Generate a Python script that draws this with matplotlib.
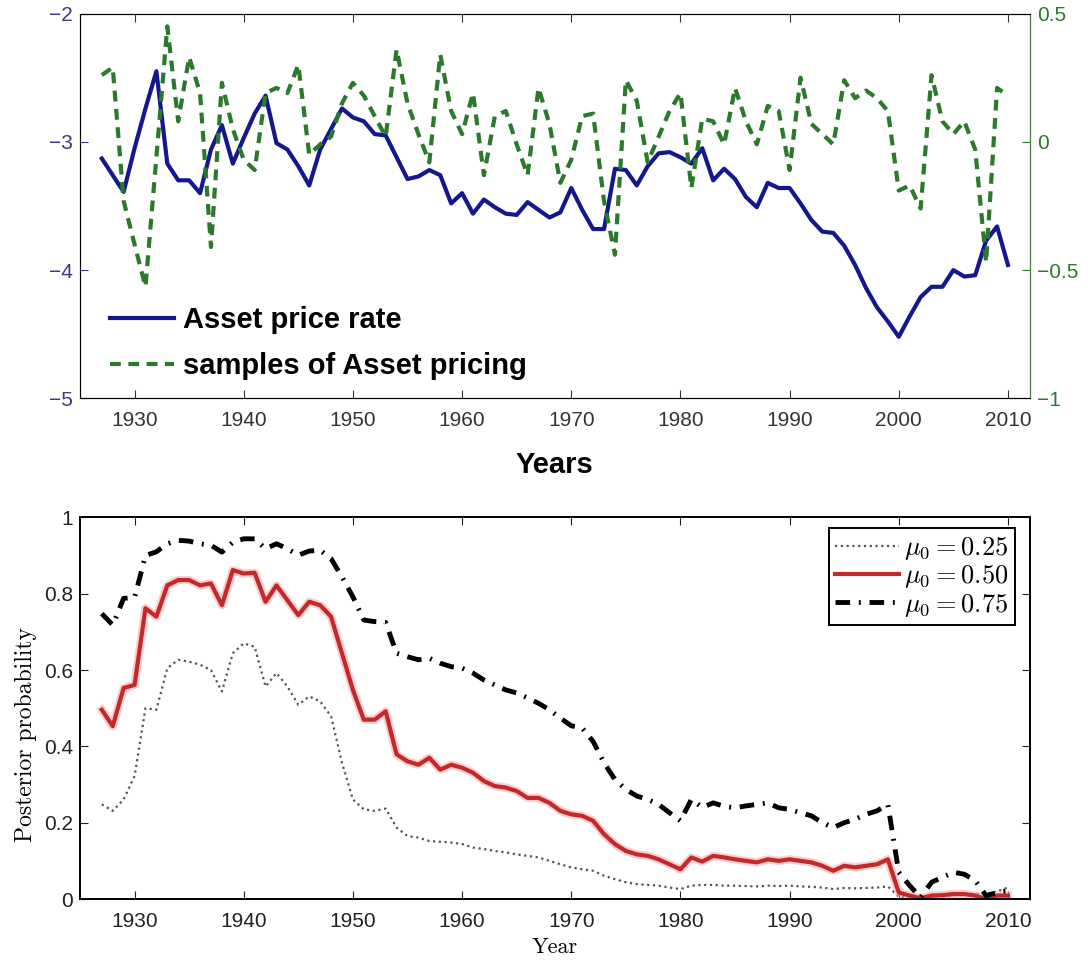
import matplotlib
matplotlib.use("Agg")
import matplotlib.pyplot as plt
import numpy as np

years = list(range(1927, 2011))

# top panel: asset price rate (left axis) and samples (right axis)
price_rate = [-3.13, -3.26, -3.39, -3.05, -2.74, -2.45, -3.17, -3.30, -3.30, -3.40,
              -3.06, -2.87, -3.17, -2.97, -2.78, -2.64, -3.01, -3.06, -3.19, -3.34,
              -3.06, -2.90, -2.74, -2.81, -2.84, -2.94, -2.95, -3.12, -3.29, -3.27,
              -3.22, -3.26, -3.48, -3.40, -3.56, -3.45, -3.51, -3.56, -3.57, -3.47,
              -3.53, -3.59, -3.55, -3.36, -3.53, -3.68, -3.68, -3.21, -3.22, -3.34,
              -3.19, -3.09, -3.08, -3.12, -3.17, -3.05, -3.30, -3.21, -3.29, -3.43,
              -3.51, -3.32, -3.36, -3.36, -3.48, -3.61, -3.70, -3.71, -3.81, -3.96,
              -4.14, -4.29, -4.40, -4.52, -4.36, -4.21, -4.13, -4.13, -4.00, -4.05,
              -4.04, -3.77, -3.66, -3.96]
samples = [0.26, 0.29, -0.23, -0.40, -0.565, -0.06, 0.45, 0.08, 0.33, 0.19,
           -0.41, 0.23, 0.05, -0.07, -0.11, 0.19, 0.21, 0.19, 0.30, -0.05,
           -0.01, 0.02, 0.15, 0.23, 0.18, 0.10, 0.02, 0.36, 0.15, 0.03,
           -0.08, 0.34, 0.12, 0.03, 0.19, -0.13, 0.10, 0.12, -0.01, -0.13,
           0.21, 0.07, -0.16, -0.07, 0.10, 0.11, -0.23, -0.44, 0.24, 0.16,
           -0.08, 0.02, 0.12, 0.19, -0.18, 0.09, 0.08, -0.01, 0.21, 0.08,
           -0.01, 0.14, 0.12, -0.11, 0.25, 0.07, 0.03, -0.01, 0.24, 0.17,
           0.20, 0.17, 0.12, -0.19, -0.17, -0.26, 0.26, 0.08, 0.03, 0.08,
           -0.03, -0.47, 0.21, 0.18]

# bottom panel: posterior probabilities
post_025 = [0.248, 0.231, 0.261, 0.322, 0.500, 0.496, 0.605, 0.627, 0.622, 0.614,
            0.600, 0.544, 0.644, 0.670, 0.661, 0.557, 0.592, 0.557, 0.509, 0.531,
            0.518, 0.479, 0.357, 0.261, 0.235, 0.231, 0.237, 0.187, 0.165, 0.161,
            0.152, 0.150, 0.148, 0.144, 0.135, 0.131, 0.126, 0.122, 0.117, 0.113,
            0.109, 0.100, 0.091, 0.083, 0.078, 0.074, 0.061, 0.052, 0.044, 0.039,
            0.037, 0.035, 0.030, 0.026, 0.035, 0.037, 0.037, 0.035, 0.035, 0.034,
            0.033, 0.035, 0.034, 0.035, 0.033, 0.032, 0.030, 0.026, 0.029, 0.028,
            0.029, 0.030, 0.033, 0.006, 0.004, 0.001, 0.005, 0.007, 0.010, 0.012,
            0.014, 0.012, 0.020, 0.030]
post_050 = [0.496, 0.453, 0.553, 0.561, 0.762, 0.740, 0.822, 0.836, 0.836, 0.822,
            0.827, 0.770, 0.862, 0.853, 0.855, 0.779, 0.822, 0.783, 0.744, 0.779,
            0.770, 0.740, 0.644, 0.548, 0.470, 0.470, 0.492, 0.379, 0.361, 0.352,
            0.370, 0.339, 0.352, 0.344, 0.331, 0.309, 0.296, 0.292, 0.283, 0.265,
            0.265, 0.252, 0.231, 0.222, 0.218, 0.205, 0.170, 0.144, 0.126, 0.117,
            0.113, 0.104, 0.091, 0.078, 0.109, 0.098, 0.113, 0.109, 0.104, 0.100,
            0.096, 0.104, 0.100, 0.104, 0.100, 0.096, 0.087, 0.074, 0.087, 0.083,
            0.087, 0.091, 0.104, 0.017, 0.009, 0.002, 0.009, 0.010, 0.013, 0.013,
            0.009, 0.000, 0.009, 0.009]
post_075 = [0.748, 0.718, 0.788, 0.790, 0.900, 0.910, 0.931, 0.940, 0.938, 0.931,
            0.927, 0.909, 0.935, 0.944, 0.944, 0.918, 0.931, 0.918, 0.901, 0.912,
            0.914, 0.892, 0.844, 0.792, 0.731, 0.727, 0.725, 0.644, 0.635, 0.627,
            0.631, 0.618, 0.609, 0.605, 0.592, 0.574, 0.561, 0.548, 0.540, 0.527,
            0.513, 0.496, 0.474, 0.454, 0.448, 0.413, 0.357, 0.313, 0.287, 0.270,
            0.261, 0.248, 0.226, 0.205, 0.261, 0.240, 0.252, 0.243, 0.239, 0.244,
            0.248, 0.252, 0.239, 0.235, 0.226, 0.218, 0.200, 0.187, 0.200, 0.209,
            0.222, 0.231, 0.248, 0.070, 0.035, 0.004, 0.044, 0.057, 0.070, 0.065,
            0.048, 0.009, 0.017, 0.022]

x_ticks = [1930, 1940, 1950, 1960, 1970, 1980, 1990, 2000, 2010]

plt.rcParams['mathtext.fontset'] = 'cm'
plt.rcParams['xtick.direction'] = 'in'
plt.rcParams['ytick.direction'] = 'in'

fig = plt.figure(figsize=(10.88, 9.67), dpi=100)

# ---- top panel ----
ax1 = fig.add_axes([0.0735, 0.588, 0.873, 0.398])
ax2 = ax1.twinx()
l1, = ax1.plot(years, price_rate, color='#15178f', lw=3)
l2, = ax2.plot(years, samples, color='#2b7a2b', lw=3, dashes=(2.6, 1.8))
ax1.set_xlim(1925, 2012)
ax1.set_ylim(-5, -2)
ax2.set_ylim(-1, 0.5)
ax1.set_xticks(x_ticks)
ax1.set_yticks([-5, -4, -3, -2])
ax2.set_yticks([-1, -0.5, 0, 0.5])
ax1.set_yticklabels(['\u22125', '\u22124', '\u22123', '\u22122'])
ax2.set_yticklabels(['\u22121', '\u22120.5', '0', '0.5'])
ax1.tick_params(axis='x', top=True, labelsize=15, colors='#333333', length=6,
                pad=9, labelfontfamily='Liberation Sans')
ax1.tick_params(axis='y', labelsize=15, colors='#3a3a8a', length=6, pad=5,
                labelfontfamily='Liberation Sans')
ax2.tick_params(axis='y', labelsize=15, colors='#2b7a2b', length=6, pad=5,
                labelfontfamily='Liberation Sans')
for s in ax1.spines.values():
    s.set_color('#333333')
ax2.spines['right'].set_color('#4a7a4a')
ax1.set_xlabel('Years', fontsize=21, fontweight='bold', family='Liberation Sans',
               labelpad=15)
ax1.legend([l1, l2], ['Asset price rate', 'samples of Asset pricing'],
           loc='lower left', bbox_to_anchor=(0.004, -0.02), frameon=False,
           prop={'family': 'Liberation Sans', 'weight': 'bold', 'size': 21},
           handlelength=2.2, handletextpad=0.3, labelspacing=0.6)

# ---- bottom panel ----
ax3 = fig.add_axes([0.0735, 0.0703, 0.873, 0.3946])
ax3.plot(years, post_025, color='#555555', lw=1.6, dashes=(1, 1.6),
         label=r'$\mu_0 = 0.25$')
ax3.plot(years, post_050, color='#f4b0b0', lw=6, alpha=0.6)
ax3.plot(years, post_050, color='#c42828', lw=3, label=r'$\mu_0 = 0.50$')
ax3.plot(years, post_075, color='black', lw=3.5, dashes=(3, 1.8, 0.4, 1.8),
         label=r'$\mu_0 = 0.75$')
ax3.set_xlim(1925, 2012)
ax3.set_ylim(0, 1)
ax3.set_xticks(x_ticks)
ax3.set_yticks([0, 0.2, 0.4, 0.6, 0.8, 1])
ax3.set_yticklabels(['0', '0.2', '0.4', '0.6', '0.8', '1'])
ax3.tick_params(axis='x', top=True, labelsize=15, length=6, colors='#222222',
                pad=9, labelfontfamily='Liberation Sans')
ax3.tick_params(axis='y', right=True, labelsize=15, length=6, colors='#222222',
                pad=5, labelfontfamily='Liberation Sans')
for s in ax3.spines.values():
    s.set_linewidth(1.4)
ax3.set_xlabel('Year', fontsize=16, family='cmr10', labelpad=5)
ax3.set_ylabel('Posterior probability', fontsize=17, family='cmr10')
ax3.yaxis.set_label_coords(-0.045, 0.43)
leg = ax3.legend(loc='upper right', bbox_to_anchor=(0.99, 0.985), fontsize=19,
                 fancybox=False, edgecolor='black', framealpha=1,
                 handlelength=2.4, handletextpad=0.2, labelspacing=0.05,
                 borderpad=0.25, borderaxespad=0.2)
leg.get_frame().set_linewidth(1.4)

fig.savefig('out.png', dpi=100)
